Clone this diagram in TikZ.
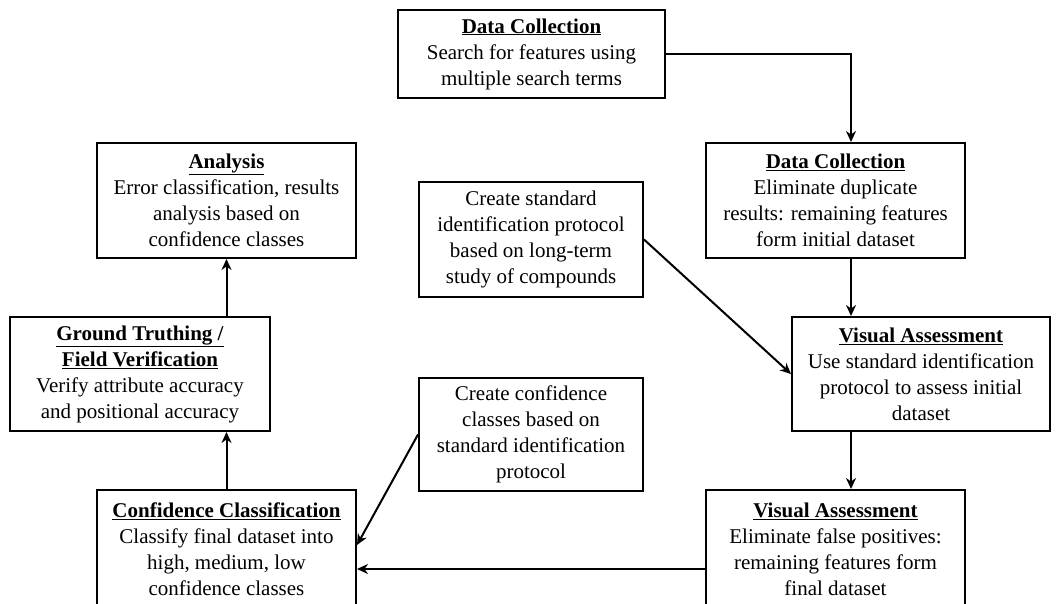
\documentclass[tikz,border=0pt]{standalone}
\usepackage{fontspec}
\setmainfont{Liberation Serif}
\usepackage{tikz}
\usetikzlibrary{arrows.meta, positioning, calc}
\newcommand{\steptitle}[1]{\underline{\textbf{#1}}}

\begin{document}
\begin{tikzpicture}[
  x=1pt, y=-1pt,
  box/.style={
    draw=black, fill=white, line width=2pt,
    minimum width=259, minimum height=115,
    inner sep=2pt, align=center,
    font=\fontsize{21}{26}\selectfont
  },
  connector/.style={
    -{Stealth[length=11pt, width=10pt]}, line width=2pt, color=black
  }
]
\useasboundingbox (0,0) rectangle (1059,604);

% Data Collection (search)
\node[box, minimum width=267, minimum height=88] (search) at (531.5, 54) {
  \steptitle{Data Collection}\\
  Search for features using\\multiple search terms
};

% Data Collection (duplicates)
\node[box] (dedup) at (835.5, 200.5) {
  \steptitle{Data Collection}\\
  Eliminate duplicate\\results: remaining features\\form initial dataset
};

% Standard protocol
\node[box, minimum width=224] (protocol) at (531, 239.5) {
  Create standard\\identification protocol\\based on long-term\\study of compounds
};

% Analysis
\node[box] (analysis) at (226.5, 200.5) {
  \steptitle{Analysis}\\
  Error classification, results\\analysis based on\\confidence classes
};

% Visual Assessment (initial dataset)
\node[box, minimum width=258, minimum height=114] (assess) at (921, 374) {
  \steptitle{Visual Assessment}\\
  Use standard identification\\protocol to assess initial\\dataset
};

% Ground Truthing
\node[box, minimum width=260, minimum height=114] (ground) at (140, 374) {
  \steptitle{Ground Truthing /}\\
  \steptitle{Field Verification}\\
  Verify attribute accuracy\\and positional accuracy
};

% Confidence classes
\node[box, minimum width=224, minimum height=113] (classes) at (531, 434.5) {
  Create confidence\\classes based on\\standard identification\\protocol
};

% Visual Assessment (final dataset)
\node[box, minimum height=118] (filter) at (835.5, 549) {
  \steptitle{Visual Assessment}\\
  Eliminate false positives:\\remaining features form\\final dataset
};

% Confidence Classification
\node[box, minimum height=118] (classify) at (226.5, 549) {
  \steptitle{Confidence Classification}\\
  Classify final dataset into\\high, medium, low\\confidence classes
};

% Connections
\draw[connector] (search.east) -| ([xshift=15.5pt]dedup.north);
\draw[connector] ([xshift=15.5pt]dedup.south) -- ([xshift=15.5pt]dedup.south |- assess.north);
\draw[connector] ([xshift=15.5pt]filter.north |- assess.south) -- ([xshift=15.5pt]filter.north);
\draw[connector] (protocol.east) -- (assess.west);
\draw[connector] ([yshift=-20pt]filter.west) -- ([yshift=-20pt]filter.west -| classify.east);
\draw[connector] (classes.west) -- ([yshift=4pt]classify.east);
\draw[connector] (classify.north) -- (classify.north |- ground.south);
\draw[connector] (analysis.south |- ground.north) -- (analysis.south);

\end{tikzpicture}
\end{document}
